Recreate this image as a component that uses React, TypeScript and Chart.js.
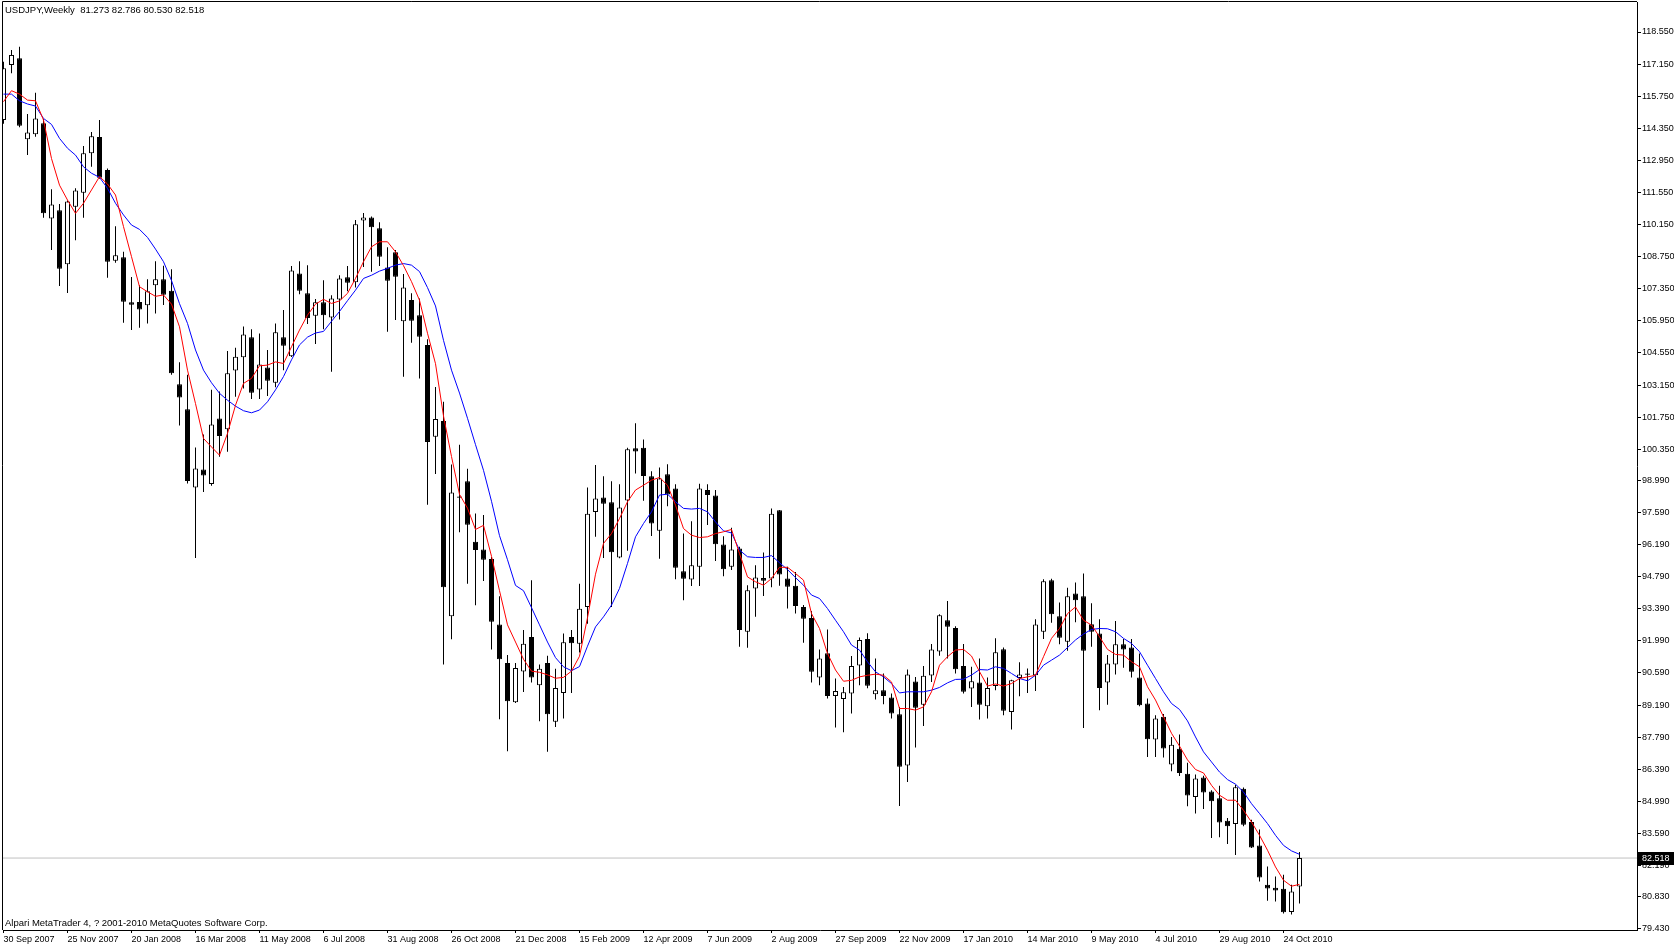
import React, { useEffect, useRef } from "react";
import { Chart, registerables } from "chart.js";
Chart.register(...registerables);

const symbolTitle = "USDJPY,Weekly  81.273 82.786 80.530 82.518";
const footerText = "Alpari MetaTrader 4, ? 2001-2010 MetaQuotes Software Corp.";
const bidPrice = 82.518;

const dateLabels = [
  "30 Sep 2007", "25 Nov 2007", "20 Jan 2008", "16 Mar 2008", "11 May 2008", "6 Jul 2008",
  "31 Aug 2008", "26 Oct 2008", "21 Dec 2008", "15 Feb 2009", "12 Apr 2009", "7 Jun 2009",
  "2 Aug 2009", "27 Sep 2009", "22 Nov 2009", "17 Jan 2010", "14 Mar 2010", "9 May 2010",
  "4 Jul 2010", "29 Aug 2010", "24 Oct 2010",
];

const priceTicks = [
  118.55, 117.15, 115.75, 114.35, 112.95, 111.55, 110.15, 108.75, 107.35, 105.95, 104.55,
  103.15, 101.75, 100.35, 98.99, 97.59, 96.19, 94.79, 93.39, 91.99, 90.59, 89.19, 87.79,
  86.39, 84.99, 83.59, 82.19, 80.83, 79.43,
];

const opens = [
  114.71, 117.11, 117.40, 113.87, 114.09, 114.57, 110.42, 110.78, 108.42, 110.93,
  111.54, 113.26, 113.97, 112.53, 108.57, 108.72, 106.76, 106.77, 106.63, 107.50,
  107.76, 107.26, 103.19, 102.09, 98.68, 99.47, 98.83, 101.69, 101.22, 103.78,
  104.36, 105.24, 102.96, 103.92, 103.25, 105.24, 104.41, 108.02, 107.15, 106.17,
  106.76, 106.10, 106.88, 107.85, 107.63, 110.33, 110.46, 109.99, 108.28, 108.94,
  105.93, 106.86, 106.20, 104.90, 100.89, 101.58, 93.06, 98.29, 98.95, 96.31,
  95.98, 95.56, 92.71, 91.03, 89.31, 90.66, 92.16, 90.06, 91.03, 88.46,
  89.72, 92.16, 91.86, 93.47, 97.61, 98.25, 98.04, 95.63, 98.11, 100.39,
  100.42, 99.17, 96.79, 99.26, 98.64, 95.03, 94.67, 95.22, 98.57, 98.33,
  96.20, 95.22, 96.02, 92.39, 94.28, 94.73, 94.71, 97.69, 94.71, 94.40,
  93.47, 92.99, 90.39, 91.45, 89.59, 89.46, 89.70, 90.92, 92.07, 89.66,
  89.84, 89.52, 88.79, 86.55, 90.22, 89.21, 90.48, 91.53, 92.89, 92.55,
  90.89, 89.91, 90.18, 89.14, 90.02, 91.63, 88.89, 90.37, 90.57, 90.49,
  92.39, 94.64, 93.07, 91.95, 94.06, 93.94, 92.72, 92.31, 90.17, 90.96,
  91.84, 91.70, 90.39, 89.26, 87.69, 88.68, 86.60, 87.29, 86.20, 85.18,
  86.03, 85.42, 85.13, 84.14, 84.00, 85.54, 84.09, 83.06, 81.35, 81.22,
  81.18, 80.16, 81.273,
];

const highs = [
  117.25, 117.76, 117.91, 114.97, 115.90, 114.75, 111.69, 111.05, 111.20, 111.74,
  113.58, 114.19, 114.71, 112.60, 110.08, 108.96, 107.86, 107.50, 107.77, 108.55,
  108.35, 108.20, 104.14, 103.60, 100.43, 100.99, 102.94, 102.87, 104.64, 104.78,
  105.70, 105.58, 105.40, 104.68, 105.84, 106.42, 108.34, 108.55, 108.38, 106.90,
  107.72, 107.07, 107.94, 108.34, 110.35, 110.66, 110.50, 110.25, 109.16, 109.04,
  107.99, 107.15, 106.93, 105.15, 103.06, 102.42, 99.68, 100.55, 99.50, 97.55,
  97.48, 95.65, 93.94, 91.37, 91.03, 92.46, 94.63, 90.96, 91.34, 90.77,
  92.31, 92.46, 94.48, 98.68, 99.66, 99.17, 98.95, 98.82, 100.42, 101.48,
  100.78, 99.39, 99.55, 99.69, 98.82, 96.67, 97.21, 98.85, 98.82, 98.57,
  96.56, 96.93, 96.10, 94.42, 95.29, 95.85, 97.76, 97.70, 95.22, 95.00,
  93.56, 93.29, 91.62, 92.49, 90.35, 89.98, 91.33, 92.14, 92.32, 91.22,
  90.57, 89.70, 89.11, 90.74, 90.42, 90.89, 91.85, 93.15, 93.73, 92.63,
  91.85, 90.86, 91.22, 90.39, 92.10, 91.70, 90.30, 91.06, 90.79, 92.93,
  94.68, 94.70, 93.67, 94.31, 94.54, 94.93, 93.63, 92.93, 91.37, 92.86,
  92.07, 92.07, 91.44, 89.48, 88.75, 88.80, 87.80, 87.91, 86.67, 86.16,
  86.11, 85.47, 85.67, 84.26, 85.71, 85.60, 84.19, 83.76, 82.15, 81.71,
  81.79, 81.35, 82.786,
];

const lows = [
  114.55, 116.75, 114.40, 113.18, 113.98, 110.45, 109.04, 107.47, 107.17, 109.47,
  110.45, 112.67, 112.15, 107.83, 108.49, 105.87, 105.55, 105.65, 105.84, 106.27,
  106.64, 103.60, 101.39, 98.86, 95.61, 98.49, 98.76, 100.02, 100.24, 102.64,
  103.00, 102.54, 102.54, 102.67, 103.05, 103.80, 104.37, 107.11, 105.81, 104.94,
  105.58, 103.73, 106.01, 107.24, 107.41, 108.30, 108.09, 108.34, 105.47, 105.99,
  103.51, 104.99, 103.44, 97.93, 99.27, 90.96, 92.06, 96.73, 94.48, 93.55,
  94.60, 91.61, 88.57, 87.18, 89.28, 89.76, 90.17, 88.49, 87.15, 88.23,
  88.61, 89.72, 91.48, 92.74, 96.53, 95.61, 93.47, 95.60, 95.92, 99.29,
  98.10, 96.57, 95.57, 97.86, 94.68, 93.76, 94.38, 94.38, 97.04, 95.47,
  94.81, 95.08, 91.73, 91.69, 93.04, 93.95, 94.33, 94.39, 93.40, 93.18,
  91.91, 90.18, 90.06, 89.48, 88.21, 88.00, 88.82, 90.06, 89.92, 89.43,
  89.23, 88.60, 84.79, 85.84, 87.34, 88.28, 90.20, 91.34, 91.22, 90.57,
  89.70, 89.11, 88.56, 88.60, 89.84, 88.75, 88.12, 89.58, 89.72, 89.80,
  92.07, 92.78, 91.84, 91.56, 92.80, 88.19, 91.73, 88.97, 89.21, 90.52,
  90.82, 90.39, 89.14, 86.93, 86.93, 86.90, 86.30, 86.10, 84.78, 84.46,
  84.66, 83.39, 83.43, 83.13, 82.65, 83.90, 82.96, 81.50, 80.65, 80.62,
  80.10, 80.05, 80.53,
];

const closes = [
  116.97, 117.55, 114.46, 114.17, 114.78, 110.64, 111.03, 108.22, 111.16, 111.64,
  113.26, 114.00, 112.19, 108.53, 108.81, 106.78, 106.65, 106.45, 107.24, 107.76,
  107.09, 103.66, 102.61, 98.97, 99.51, 99.21, 101.43, 100.93, 103.66, 104.39,
  105.36, 102.81, 104.05, 103.34, 105.45, 104.86, 108.15, 107.26, 106.08, 106.76,
  106.20, 106.93, 107.80, 107.61, 110.16, 110.46, 110.03, 108.75, 107.70, 107.87,
  107.41, 105.96, 105.26, 100.67, 101.67, 94.33, 98.46, 98.23, 97.06, 95.95,
  95.53, 92.83, 91.19, 89.36, 90.81, 91.86, 90.39, 90.77, 88.79, 89.94,
  91.93, 91.89, 93.39, 97.54, 98.20, 97.97, 95.86, 97.81, 100.35, 100.25,
  99.18, 97.11, 99.07, 98.38, 95.18, 94.70, 95.29, 98.64, 98.35, 96.21,
  95.12, 95.98, 92.46, 94.20, 94.76, 94.61, 97.54, 94.89, 94.35, 93.51,
  92.96, 90.64, 91.22, 89.59, 89.80, 89.75, 90.89, 92.03, 90.03, 89.84,
  89.59, 88.82, 86.50, 90.52, 89.07, 90.47, 91.62, 93.11, 92.61, 90.75,
  89.77, 90.23, 89.21, 89.94, 91.49, 88.94, 90.27, 90.52, 90.51, 92.71,
  94.59, 93.15, 92.13, 93.94, 93.76, 91.56, 92.39, 89.94, 91.00, 91.84,
  91.62, 90.64, 89.18, 87.70, 88.60, 87.30, 87.46, 86.23, 85.25, 85.99,
  85.38, 84.99, 84.07, 83.90, 85.61, 83.97, 82.98, 81.67, 81.19, 81.10,
  80.15, 81.06, 82.518,
];

const redMA = [
  115.51, 115.99, 115.84, 115.58, 115.55, 114.71, 113.03, 111.87, 111.22, 110.64,
  111.08, 111.66, 112.24, 111.92, 111.44, 110.06, 108.75, 107.44, 107.22, 107.02,
  107.08, 106.68, 105.69, 103.80, 102.34, 100.82, 100.45, 100.09, 101.04, 102.27,
  103.22, 103.44, 103.99, 104.02, 104.16, 104.09, 104.82, 105.55, 106.20, 106.68,
  106.89, 106.71, 106.82, 107.15, 107.80, 108.53, 109.18, 109.40, 109.40, 108.96,
  108.36, 107.66, 106.85, 105.41, 104.08, 101.80, 100.03, 98.38, 97.78, 96.85,
  97.03, 95.68, 94.18, 92.69, 91.94, 91.19, 90.67, 90.62, 90.51, 90.36,
  90.40, 90.67, 91.32, 93.00, 94.90, 96.24, 96.67, 97.33, 98.06, 98.57,
  98.78, 99.00, 99.12, 98.78, 97.91, 96.89, 96.60, 96.50, 96.53, 96.67,
  96.75, 96.85, 95.80, 94.78, 94.57, 94.42, 94.71, 95.20, 95.20, 94.93,
  94.64, 93.18, 92.53, 91.44, 90.72, 90.23, 90.27, 90.42, 90.49, 90.54,
  90.49, 90.20, 89.04, 89.04, 88.97, 89.11, 89.77, 90.93, 91.30, 91.59,
  91.62, 91.33, 90.65, 90.02, 90.11, 90.02, 90.13, 90.35, 90.42, 90.49,
  91.30, 92.10, 92.53, 93.18, 93.47, 92.89, 92.68, 92.17, 91.62, 91.40,
  91.37, 91.08, 90.86, 89.99, 89.41, 88.68, 87.96, 87.40, 86.80, 86.38,
  86.23, 85.69, 85.26, 85.04, 85.04, 84.60, 84.09, 83.51, 82.86, 82.13,
  81.55, 81.29, 81.37,
];

const blueMA = [
  115.84, 115.84, 115.55, 115.41, 115.32, 114.78, 114.52, 113.91, 113.48, 113.18,
  112.67, 112.39, 112.21, 111.73, 111.08, 110.57, 110.13, 109.94, 109.59, 109.08,
  108.53, 107.71, 106.70, 105.84, 104.68, 103.80, 103.25, 102.79, 102.49, 102.23,
  102.03, 101.94, 102.06, 102.42, 102.94, 103.52, 104.25, 104.90, 105.24, 105.42,
  105.49, 105.93, 106.36, 106.83, 107.29, 107.80, 107.94, 108.12, 108.24, 108.38,
  108.45, 108.38, 108.10, 107.40, 106.60, 105.10, 103.80, 102.80, 101.70, 100.55,
  99.43, 98.08, 96.58, 95.53, 94.41, 94.18, 93.44, 92.69, 91.94, 91.26,
  90.86, 90.69, 90.87, 91.76, 92.60, 93.04, 93.55, 94.28, 95.37, 96.53,
  97.11, 97.62, 98.35, 98.39, 98.06, 97.77, 97.74, 97.77, 97.62, 97.18,
  96.79, 96.70, 95.95, 95.66, 95.63, 95.63, 95.71, 95.40, 95.10, 94.75,
  94.42, 93.99, 93.84, 93.40, 92.89, 92.39, 91.81, 91.59, 91.08, 90.64,
  90.42, 90.13, 89.72, 89.77, 89.77, 89.77, 89.84, 89.96, 90.16, 90.31,
  90.32, 90.50, 90.74, 90.72, 90.86, 90.79, 90.57, 90.35, 90.25, 90.49,
  90.93, 91.15, 91.37, 91.70, 92.03, 92.29, 92.49, 92.53, 92.52, 92.39,
  92.10, 91.88, 91.52, 90.93, 90.35, 89.77, 89.26, 89.00, 88.50, 87.80,
  87.15, 86.71, 86.27, 85.94, 85.74, 85.40, 84.89, 84.46, 84.02, 83.51,
  83.07, 82.83, 82.68,
];

const W = 1674;
const H = 948;

export default function App() {
  const canvasRef = useRef<HTMLCanvasElement | null>(null);

  useEffect(() => {
    document.body.style.margin = "0";
    const canvas = canvasRef.current;
    if (!canvas) return;

    const idx = opens.map((_, i) => i);
    const wicks = idx.map((i) => ({ x: i, y: [lows[i], highs[i]] }));
    const bullBodies = idx
      .filter((i) => closes[i] >= opens[i])
      .map((i) => ({ x: i, y: [opens[i], closes[i]] }));
    const bearBodies = idx
      .filter((i) => closes[i] < opens[i])
      .map((i) => ({ x: i, y: [closes[i], opens[i]] }));
    const redPts = redMA.map((v, i) => ({ x: i, y: v }));
    const bluePts = blueMA.map((v, i) => ({ x: i, y: v }));

    const framePlugin = {
      id: "mtFrame",
      afterDraw(chart: any) {
        const { ctx, chartArea, scales } = chart;
        ctx.save();
        ctx.strokeStyle = "#000";
        ctx.lineWidth = 1;
        ctx.beginPath();
        ctx.moveTo(chartArea.left - 0.5, chartArea.bottom);
        ctx.lineTo(chartArea.left - 0.5, chartArea.top - 0.5);
        ctx.lineTo(chartArea.right, chartArea.top - 0.5);
        ctx.stroke();
        const y = Math.round(scales.y.getPixelForValue(bidPrice));
        ctx.fillStyle = "#000";
        ctx.fillRect(chartArea.right + 1, y - 6, W - chartArea.right - 1, 13);
        ctx.fillStyle = "#fff";
        ctx.font = "9px 'Liberation Sans'";
        ctx.textBaseline = "middle";
        ctx.textAlign = "left";
        ctx.fillText(bidPrice.toFixed(3), chartArea.right + 5, y + 0.5);
        ctx.restore();
      },
    };

    const chart = new Chart(canvas, {
      type: "bar",
      data: {
        datasets: [
          {
            type: "line",
            data: redPts,
            borderColor: "#ff0000",
            borderWidth: 1,
            pointRadius: 0,
            tension: 0,
            order: 0,
          } as any,
          {
            type: "line",
            data: bluePts,
            borderColor: "#0000ff",
            borderWidth: 1,
            pointRadius: 0,
            tension: 0,
            order: 0,
          } as any,
          {
            type: "bar",
            data: bearBodies,
            backgroundColor: "#000",
            borderColor: "#000",
            borderWidth: 1,
            borderSkipped: false,
            barThickness: 5,
            grouped: false,
            inflateAmount: 0,
            minBarLength: 1,
            order: 1,
          } as any,
          {
            type: "bar",
            data: bullBodies,
            backgroundColor: "#fff",
            borderColor: "#000",
            borderWidth: 1,
            borderSkipped: false,
            barThickness: 5,
            grouped: false,
            inflateAmount: 0,
            minBarLength: 1,
            order: 1,
          } as any,
          {
            type: "bar",
            data: wicks,
            backgroundColor: "#000",
            borderWidth: 0,
            barThickness: 1,
            grouped: false,
            inflateAmount: 0,
            order: 2,
          } as any,
          {
            type: "line",
            data: [
              { x: -1, y: bidPrice },
              { x: 210, y: bidPrice },
            ],
            borderColor: "#c0c0c0",
            borderWidth: 1,
            pointRadius: 0,
            order: 3,
          } as any,
        ],
      },
      options: {
        responsive: false,
        maintainAspectRatio: false,
        animation: false,
        devicePixelRatio: 1,
        events: [],
        layout: { padding: { left: 3, top: 2, right: 0, bottom: 0 } },
        plugins: {
          legend: { display: false },
          tooltip: { enabled: false },
          title: { display: false },
        },
        scales: {
          x: {
            type: "linear",
            position: "bottom",
            min: -0.0625,
            max: 204.1875,
            offset: false,
            afterBuildTicks: (s: any) => {
              s.ticks = dateLabels.map((_, k) => ({ value: k * 8 }));
            },
            afterFit: (s: any) => {
              s.height = 18;
              s.paddingLeft = 0;
              s.paddingRight = 0;
            },
            ticks: {
              callback: (_v: any, i: number) => dateLabels[i] ?? "",
              align: "start",
              maxRotation: 0,
              minRotation: 0,
              autoSkip: false,
              color: "#000",
              padding: 1,
              font: { family: "'Liberation Sans'", size: 9 },
            },
            grid: {
              drawOnChartArea: false,
              offset: false,
              color: "#000",
              tickLength: 3,
            },
            border: { display: true, color: "#000", width: 1 },
          } as any,
          y: {
            type: "linear",
            position: "right",
            min: 79.379,
            max: 119.859,
            afterBuildTicks: (s: any) => {
              s.ticks = priceTicks.map((v) => ({ value: v }));
            },
            afterFit: (s: any) => {
              s.width = 37;
              s.paddingTop = 0;
              s.paddingBottom = 0;
            },
            ticks: {
              callback: (v: any) => Number(v).toFixed(3),
              color: "#000",
              padding: 1,
              autoSkip: false,
              font: { family: "'Liberation Sans'", size: 9 },
            },
            grid: {
              drawOnChartArea: false,
              color: "#000",
              tickLength: 4,
            },
            border: { display: true, color: "#000", width: 1 },
          } as any,
        },
      } as any,
      plugins: [framePlugin],
    });

    return () => {
      chart.destroy();
    };
  }, []);

  return (
    <div style={{ position: "relative", width: W, height: H, background: "#fff", overflow: "hidden" }}>
      <canvas ref={canvasRef} width={W} height={H} style={{ position: "absolute", left: 0, top: 0, width: W, height: H }} />
      <div
        style={{
          position: "absolute",
          left: 5,
          top: 4,
          fontFamily: "'Liberation Sans', sans-serif",
          fontSize: 9.5,
          lineHeight: "11px",
          whiteSpace: "pre",
          color: "#000",
        }}
      >
        {symbolTitle}
      </div>
      <div
        style={{
          position: "absolute",
          left: 5,
          top: 917,
          fontFamily: "'Liberation Sans', sans-serif",
          fontSize: 9.5,
          lineHeight: "11px",
          whiteSpace: "pre",
          color: "#000",
        }}
      >
        {footerText}
      </div>
    </div>
  );
}
